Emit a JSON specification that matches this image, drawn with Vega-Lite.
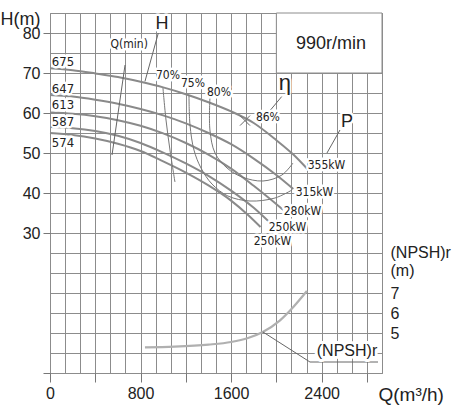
{
  "$schema": "https://vega.github.io/schema/vega-lite/v6.json",
  "width": 332,
  "height": 360,
  "autosize": "none",
  "padding": {"left": 50, "top": 13, "right": 72, "bottom": 32},
  "background": "white",
  "config": {
    "font": "Liberation Sans",
    "view": {"stroke": "#8c8c8c", "strokeWidth": 1}
  },
  "datasets": {
    "box": [{"Q": 2000, "Q2": 2933.3333, "H": 70, "H2": 85}],
    "hc": [
      {"c": "675", "Q": 0, "H": 71.2}, {"c": "675", "Q": 200, "H": 70.7}, {"c": "675", "Q": 400, "H": 69.9}, {"c": "675", "Q": 600, "H": 69.0}, {"c": "675", "Q": 800, "H": 67.8}, {"c": "675", "Q": 1000, "H": 66.4}, {"c": "675", "Q": 1200, "H": 64.7}, {"c": "675", "Q": 1400, "H": 62.7}, {"c": "675", "Q": 1600, "H": 60.4}, {"c": "675", "Q": 1800, "H": 57.5}, {"c": "675", "Q": 2000, "H": 53.2}, {"c": "675", "Q": 2150, "H": 49.6}, {"c": "675", "Q": 2280, "H": 45.8},
      {"c": "647", "Q": 0, "H": 64.5}, {"c": "647", "Q": 200, "H": 64.1}, {"c": "647", "Q": 400, "H": 63.3}, {"c": "647", "Q": 600, "H": 62.3}, {"c": "647", "Q": 800, "H": 61.0}, {"c": "647", "Q": 1000, "H": 59.4}, {"c": "647", "Q": 1200, "H": 57.4}, {"c": "647", "Q": 1400, "H": 55.0}, {"c": "647", "Q": 1600, "H": 52.2}, {"c": "647", "Q": 1800, "H": 48.6}, {"c": "647", "Q": 2000, "H": 44.5}, {"c": "647", "Q": 2150, "H": 41.0},
      {"c": "613", "Q": 0, "H": 60.1}, {"c": "613", "Q": 200, "H": 59.8}, {"c": "613", "Q": 400, "H": 59.2}, {"c": "613", "Q": 600, "H": 58.2}, {"c": "613", "Q": 800, "H": 56.8}, {"c": "613", "Q": 1000, "H": 54.9}, {"c": "613", "Q": 1200, "H": 52.5}, {"c": "613", "Q": 1400, "H": 49.6}, {"c": "613", "Q": 1600, "H": 46.1}, {"c": "613", "Q": 1800, "H": 41.8}, {"c": "613", "Q": 2060, "H": 35.8},
      {"c": "587", "Q": 0, "H": 56.5}, {"c": "587", "Q": 200, "H": 56.2}, {"c": "587", "Q": 400, "H": 55.5}, {"c": "587", "Q": 600, "H": 54.3}, {"c": "587", "Q": 800, "H": 52.5}, {"c": "587", "Q": 1000, "H": 50.1}, {"c": "587", "Q": 1200, "H": 47.4}, {"c": "587", "Q": 1400, "H": 44.3}, {"c": "587", "Q": 1600, "H": 40.6}, {"c": "587", "Q": 1800, "H": 36.3}, {"c": "587", "Q": 1950, "H": 32.4},
      {"c": "574", "Q": 0, "H": 55.0}, {"c": "574", "Q": 200, "H": 54.5}, {"c": "574", "Q": 400, "H": 53.6}, {"c": "574", "Q": 600, "H": 52.3}, {"c": "574", "Q": 800, "H": 50.5}, {"c": "574", "Q": 1000, "H": 47.9}, {"c": "574", "Q": 1200, "H": 45.1}, {"c": "574", "Q": 1400, "H": 41.9}, {"c": "574", "Q": 1600, "H": 38.1}, {"c": "574", "Q": 1750, "H": 34.5}, {"c": "574", "Q": 1860, "H": 31.5}
    ],
    "eff": [
      {"c": "70", "k": 0, "Q": 998, "H": 66.25}, {"c": "70", "k": 1, "Q": 1025, "H": 58.25}, {"c": "70", "k": 2, "Q": 1060, "H": 50.75}, {"c": "70", "k": 3, "Q": 1104, "H": 42.75},
      {"c": "75", "k": 0, "Q": 1228, "H": 64.5}, {"c": "75", "k": 1, "Q": 1237, "H": 57.0}, {"c": "75", "k": 2, "Q": 1272, "H": 50.75}, {"c": "75", "k": 3, "Q": 1334, "H": 46.25}, {"c": "75", "k": 4, "Q": 1431, "H": 42.25}, {"c": "75", "k": 5, "Q": 1572, "H": 39.25}, {"c": "75", "k": 6, "Q": 1767, "H": 38.0}, {"c": "75", "k": 7, "Q": 1988, "H": 38.75}, {"c": "75", "k": 8, "Q": 2138, "H": 40.75},
      {"c": "80", "k": 0, "Q": 1413, "H": 63.75}, {"c": "80", "k": 1, "Q": 1413, "H": 55.75}, {"c": "80", "k": 2, "Q": 1458, "H": 50.0}, {"c": "80", "k": 3, "Q": 1564, "H": 46.25}, {"c": "80", "k": 4, "Q": 1696, "H": 44.0}, {"c": "80", "k": 5, "Q": 1882, "H": 43.0}, {"c": "80", "k": 6, "Q": 2049, "H": 44.5}, {"c": "80", "k": 7, "Q": 2147, "H": 47.5}
    ],
    "lead": [
      {"c": "qmin", "k": 0, "Q": 663, "H": 72.0}, {"c": "qmin", "k": 1, "Q": 548, "H": 49.5},
      {"c": "H", "k": 0, "Q": 957, "H": 80.0}, {"c": "H", "k": 1, "Q": 839, "H": 67.9},
      {"c": "eta", "k": 0, "Q": 2047, "H": 64.1}, {"c": "eta", "k": 1, "Q": 1935, "H": 60.3},
      {"c": "P", "k": 0, "Q": 2562, "H": 55.75}, {"c": "P", "k": 1, "Q": 2447, "H": 50.0}
    ],
    "labels": [
      {"t": "675", "g": "dia", "Q": 115, "H": 72.8},
      {"t": "647", "g": "dia", "Q": 115, "H": 65.9},
      {"t": "613", "g": "dia", "Q": 115, "H": 61.9},
      {"t": "587", "g": "dia", "Q": 115, "H": 57.75},
      {"t": "574", "g": "dia", "Q": 115, "H": 52.4},
      {"t": "Q(min)", "g": "small", "Q": 700, "H": 77.25},
      {"t": "70%", "g": "small", "Q": 1042, "H": 69.5},
      {"t": "75%", "g": "small", "Q": 1263, "H": 67.5},
      {"t": "80%", "g": "small", "Q": 1493, "H": 65.25},
      {"t": "86%", "g": "small", "Q": 1925, "H": 59.0},
      {"t": "355kW", "g": "small", "Q": 2443, "H": 47.0},
      {"t": "315kW", "g": "small", "Q": 2337, "H": 40.25},
      {"t": "280kW", "g": "small", "Q": 2231, "H": 35.4},
      {"t": "250kW", "g": "small", "Q": 2098, "H": 31.5},
      {"t": "250kW", "g": "small", "Q": 1966, "H": 28.0},
      {"t": "H", "g": "big", "Q": 990, "H": 82.25},
      {"t": "P", "g": "big", "Q": 2624, "H": 57.75},
      {"t": "990r/min", "g": "big", "Q": 2482, "H": 77.25},
      {"t": "η", "g": "eta", "Q": 2076, "H": 67.5}
    ],
    "bep": [{"Q": 1723, "H": 58.1}],
    "npsh": [
      {"Q": 839, "N": 4.28}, {"Q": 1100, "N": 4.32}, {"Q": 1400, "N": 4.42}, {"Q": 1600, "N": 4.55}, {"Q": 1750, "N": 4.75}, {"Q": 1880, "N": 5.05}, {"Q": 2030, "N": 5.62}, {"Q": 2150, "N": 6.3}, {"Q": 2270, "N": 7.1}
    ],
    "npshLead": [
      {"k": 0, "Q": 1882, "N": 5.05}, {"k": 1, "Q": 2297, "N": 3.55}, {"k": 2, "Q": 2898, "N": 3.55}
    ],
    "npshLabel": [{"t": "(NPSH)r", "Q": 2624, "N": 4.1}]
  },
  "layer": [
    {
      "encoding": {
        "x": {"field": "Q", "type": "quantitative", "scale": {"domain": [0, 2933.3333], "nice": false, "zero": false}, "axis": null},
        "y": {"field": "H", "type": "quantitative", "scale": {"domain": [-5, 85], "nice": false, "zero": false}, "axis": null}
      },
      "layer": [
        {
          "data": {"name": "box"},
          "mark": {"type": "rect", "fill": "white", "stroke": "#8c8c8c", "strokeWidth": 1},
          "encoding": {
            "x": {"field": "Q", "type": "quantitative",
              "axis": {
                "orient": "bottom", "zindex": 0,
                "values": [0, 133.3333, 266.6667, 400, 533.3333, 666.6667, 800, 933.3333, 1066.6667, 1200, 1333.3333, 1466.6667, 1600, 1733.3333, 1866.6667, 2000, 2133.3333, 2266.6667, 2400, 2533.3333, 2666.6667, 2800, 2933.3333],
                "grid": true, "gridColor": "#8c8c8c", "gridWidth": 1, "gridOpacity": 1,
                "domain": false, "ticks": false, "labels": false, "title": null
              }
            },
            "x2": {"field": "Q2"},
            "y": {"field": "H", "type": "quantitative",
              "axis": {
                "orient": "left", "zindex": 0,
                "values": [-5, 0, 5, 10, 15, 20, 25, 30, 35, 40, 45, 50, 55, 60, 65, 70, 75, 80, 85],
                "grid": true, "gridColor": "#8c8c8c", "gridWidth": 1, "gridOpacity": 1,
                "domain": false, "ticks": false, "labels": false, "title": null
              }
            },
            "y2": {"field": "H2"}
          }
        },
        {
          "data": {"name": "hc"},
          "mark": {"type": "line", "color": "#8a8a8a", "strokeWidth": 2, "interpolate": "monotone"},
          "encoding": {
            "x": {"field": "Q", "type": "quantitative",
              "axis": {
                "orient": "bottom",
                "values": [0, 400, 800, 1200, 1600, 2000, 2400, 2800],
                "grid": false, "domain": false,
                "ticks": true, "tickSize": 9, "tickColor": "#777",
                "labelExpr": "datum.value % 800 == 0 ? datum.label : ''",
                "format": "d",
                "labelFontSize": 16, "labelColor": "#222", "labelPadding": 3, "labelFlush": false, "labelOverlap": false,
                "title": "Q(m³/h)", "titleX": 328, "titleY": 21, "titleAlign": "left", "titleBaseline": "middle",
                "titleFontSize": 19, "titleFontWeight": "normal", "titleColor": "#222"
              }
            },
            "y": {"field": "H", "type": "quantitative",
              "axis": {
                "orient": "left",
                "values": [-5, 30, 40, 50, 60, 70, 80],
                "grid": false, "domain": false,
                "ticks": true, "tickSize": 7, "tickColor": "#777",
                "labelExpr": "datum.value >= 30 ? datum.label : ''",
                "labelFontSize": 16, "labelColor": "#222", "labelPadding": 3, "labelOverlap": false, "labelFlush": false,
                "title": "H(m)", "titleAngle": 0, "titleX": -50, "titleY": 6, "titleAlign": "left", "titleBaseline": "middle",
                "titleFontSize": 18, "titleFontWeight": "normal", "titleColor": "#222"
              }
            },
            "detail": {"field": "c"}
          }
        },
        {
          "data": {"name": "eff"},
          "mark": {"type": "line", "color": "#777", "strokeWidth": 1, "interpolate": "catmull-rom"},
          "encoding": {"detail": {"field": "c"}, "order": {"field": "k"}}
        },
        {
          "data": {"name": "lead"},
          "mark": {"type": "line", "color": "#666", "strokeWidth": 1},
          "encoding": {"detail": {"field": "c"}, "order": {"field": "k"}}
        },
        {
          "data": {"name": "bep"},
          "mark": {"type": "point", "shape": "M-1,-1L1,1M1,-1L-1,1", "filled": false, "stroke": "#666", "strokeWidth": 1, "size": 100, "opacity": 1}
        },
        {
          "data": {"name": "labels"},
          "transform": [{"filter": "datum.g == 'dia' || datum.g == 'small'"}],
          "mark": {"type": "text", "font": "DejaVu Sans Condensed, Liberation Sans, sans-serif", "fontSize": 12, "fill": "white", "stroke": "white", "strokeWidth": 5, "strokeJoin": "round", "baseline": "middle", "align": "center"},
          "encoding": {"text": {"field": "t"}}
        },
        {
          "data": {"name": "labels"},
          "transform": [{"filter": "datum.g == 'dia'"}],
          "mark": {"type": "text", "font": "DejaVu Sans Condensed, Liberation Sans, sans-serif", "fontSize": 13, "fill": "#222", "baseline": "middle", "align": "center"},
          "encoding": {"text": {"field": "t"}}
        },
        {
          "data": {"name": "labels"},
          "transform": [{"filter": "datum.g == 'small'"}],
          "mark": {"type": "text", "font": "DejaVu Sans Condensed, Liberation Sans, sans-serif", "fontSize": 12, "fill": "#222", "baseline": "middle", "align": "center"},
          "encoding": {"text": {"field": "t"}}
        },
        {
          "data": {"name": "labels"},
          "transform": [{"filter": "datum.g == 'big' || datum.g == 'eta'"}],
          "mark": {"type": "text", "fontSize": 18, "fill": "white", "stroke": "white", "strokeWidth": 5, "strokeJoin": "round", "baseline": "middle", "align": "center"},
          "encoding": {"text": {"field": "t"}}
        },
        {
          "data": {"name": "labels"},
          "transform": [{"filter": "datum.g == 'big'"}],
          "mark": {"type": "text", "fontSize": 18, "fill": "#222", "baseline": "middle", "align": "center"},
          "encoding": {"text": {"field": "t"}}
        },
        {
          "data": {"name": "labels"},
          "transform": [{"filter": "datum.g == 'eta'"}],
          "mark": {"type": "text", "fontSize": 22, "fill": "#222", "baseline": "middle", "align": "center"},
          "encoding": {"text": {"field": "t"}}
        }
      ],
      "resolve": {"axis": {"x": "independent", "y": "independent"}}
    },
    {
      "encoding": {
        "x": {"field": "Q", "type": "quantitative", "axis": null},
        "y": {
          "field": "N", "type": "quantitative",
          "scale": {"domain": [3, 21], "nice": false, "zero": false},
          "axis": {
            "orient": "right", "values": [5, 6, 7], "grid": false, "ticks": false, "domain": false,
            "labelFontSize": 16, "labelColor": "#222", "labelPadding": 8, "labelAlign": "left", "labelOverlap": false, "labelFlush": false,
            "title": ["(NPSH)r", "(m)"], "titleAngle": 0, "titleX": 8, "titleY": 231, "titleAlign": "left", "titleBaseline": "top",
            "titleFontSize": 16, "titleFontWeight": "normal", "titleColor": "#222", "titleLineHeight": 18
          }
        }
      },
      "layer": [
        {
          "data": {"name": "npsh"},
          "mark": {"type": "line", "color": "#b0b0b0", "strokeWidth": 2.2, "interpolate": "monotone"}
        },
        {
          "data": {"name": "npshLead"},
          "mark": {"type": "line", "color": "#666", "strokeWidth": 1},
          "encoding": {"order": {"field": "k"}}
        },
        {
          "data": {"name": "npshLabel"},
          "mark": {"type": "text", "fill": "white", "stroke": "white", "strokeWidth": 6, "strokeJoin": "round", "fontSize": 16, "baseline": "middle", "align": "center"},
          "encoding": {"text": {"field": "t"}}
        },
        {
          "data": {"name": "npshLabel"},
          "mark": {"type": "text", "fill": "#222", "fontSize": 16, "baseline": "middle", "align": "center"},
          "encoding": {"text": {"field": "t"}}
        }
      ]
    }
  ],
  "resolve": {"scale": {"y": "independent"}}
}
